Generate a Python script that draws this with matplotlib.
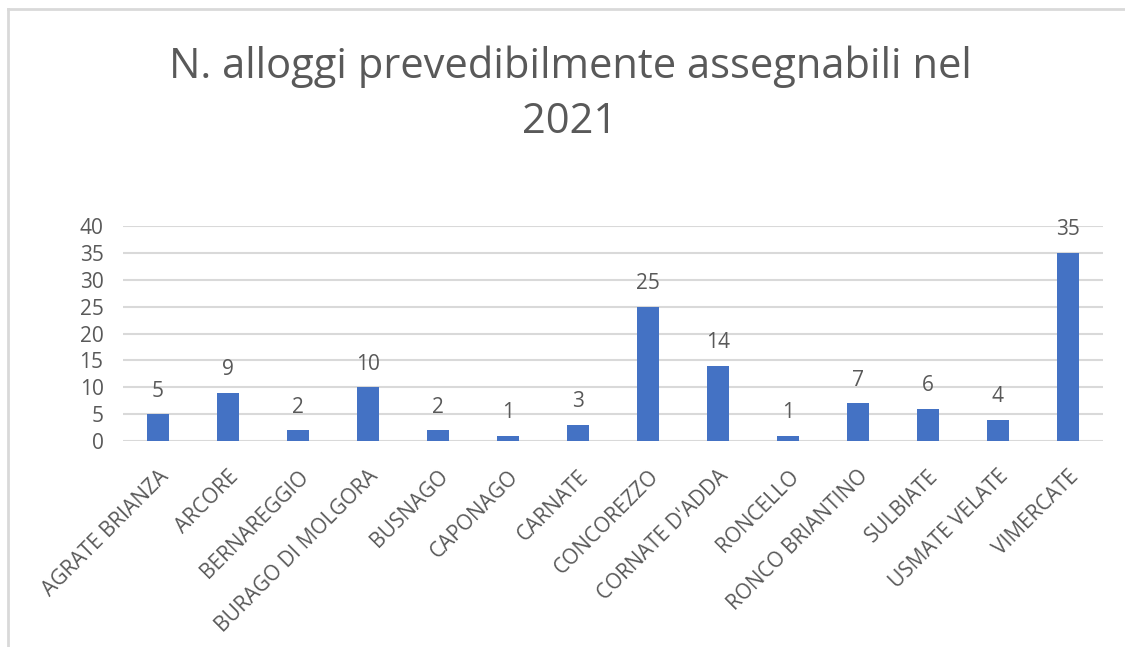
import matplotlib
matplotlib.use("Agg")
import matplotlib.pyplot as plt
from matplotlib.lines import Line2D

categories = ["AGRATE BRIANZA", "ARCORE", "BERNAREGGIO", "BURAGO DI MOLGORA", "BUSNAGO",
              "CAPONAGO", "CARNATE", "CONCOREZZO", "CORNATE D'ADDA", "RONCELLO",
              "RONCO BRIANTINO", "SULBIATE", "USMATE VELATE", "VIMERCATE"]
values = [5, 9, 2, 10, 2, 1, 3, 25, 14, 1, 7, 6, 4, 35]
yticks = [0, 5, 10, 15, 20, 25, 30, 35, 40]
title = "N. alloggi prevedibilmente assegnabili nel\n2021"

plt.rcParams['font.family'] = ['Open Sans', 'DejaVu Sans']
txt = "#595959"

W, H = 1125, 647
fig = plt.figure(figsize=(W / 100, H / 100), dpi=100)
ax = fig.add_axes([123 / W, 1 - 441 / H, 980 / W, 215 / H])

x = list(range(len(categories)))
ax.bar(x, values, width=0.31, color="#4472C4", zorder=3)
ax.set_xlim(-0.5, len(categories) - 0.5)
ax.set_ylim(0, 40)
ax.set_yticks(yticks)
ax.set_yticklabels([str(v) for v in yticks], fontsize=15, color=txt)
ax.tick_params(axis='y', length=0, pad=14)
ax.set_xticks(x)
ax.set_xticklabels(categories, rotation=45, ha='right', va='top',
                   rotation_mode='anchor', fontsize=15, color=txt)
ax.tick_params(axis='x', length=0, pad=18)
ax.grid(axis='y', color="#d9d9d9", linewidth=1.5, zorder=0)
for s in ax.spines.values():
    s.set_visible(False)

for xi, v in zip(x, values):
    ax.annotate(str(v), (xi, v), xytext=(0, 9), textcoords='offset points',
                ha='center', va='bottom', fontsize=15, color=txt)

fig.text(570 / W, 1 - 46 / H, title, ha='center', va='top', fontsize=30,
         color=txt, linespacing=1.4)

fig.add_artist(Line2D([8 / W, 8 / W], [0, 1 - 9 / H], transform=fig.transFigure,
                      color="#d9d9d9", linewidth=2))
fig.add_artist(Line2D([8 / W, 1], [1 - 9 / H, 1 - 9 / H], transform=fig.transFigure,
                      color="#d9d9d9", linewidth=2))

fig.savefig("out.png", dpi=100)
